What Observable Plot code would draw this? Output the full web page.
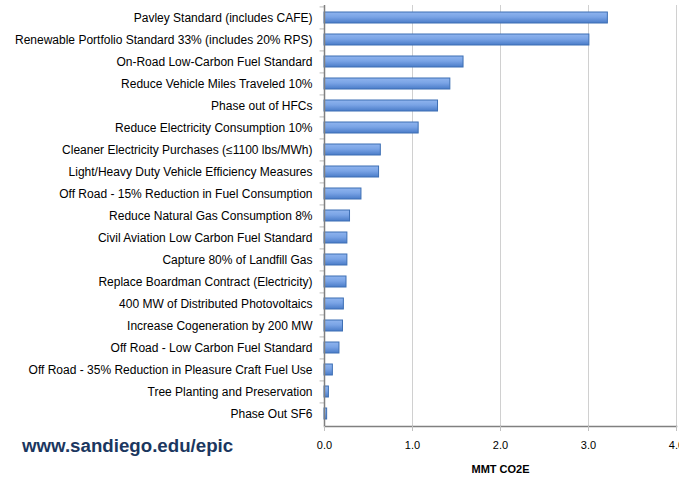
<!DOCTYPE html>
<html><head><meta charset="utf-8">
<script src="https://cdn.jsdelivr.net/npm/d3@7"></script>
<script src="https://cdn.jsdelivr.net/npm/@observablehq/plot@0.6"></script>
<style>
body{margin:0;background:#fff;}
#wrap{position:relative;width:679px;height:481px;overflow:hidden;}
#url{position:absolute;left:22px;top:435px;font:bold 18.7px "Liberation Sans",Arial,sans-serif;color:#1b3760;}
</style></head>
<body><div id="wrap"><div id="url">www.sandiego.edu/epic</div></div>
<script>
const categories = [
  "Pavley Standard (includes CAFE)",
  "Renewable Portfolio Standard 33% (includes 20% RPS)",
  "On-Road Low-Carbon Fuel Standard",
  "Reduce Vehicle Miles Traveled 10%",
  "Phase out of HFCs",
  "Reduce Electricity Consumption 10%",
  "Cleaner Electricity Purchases (≤1100 lbs/MWh)",
  "Light/Heavy Duty Vehicle Efficiency Measures",
  "Off Road - 15% Reduction in Fuel Consumption",
  "Reduce Natural Gas Consumption 8%",
  "Civil Aviation Low Carbon Fuel Standard",
  "Capture 80% of Landfill Gas",
  "Replace Boardman Contract (Electricity)",
  "400 MW of Distributed Photovoltaics",
  "Increase Cogeneration by 200 MW",
  "Off Road - Low Carbon Fuel Standard",
  "Off Road - 35% Reduction in Pleasure Craft Fuel Use",
  "Tree Planting and Preservation",
  "Phase Out SF6"
];
const values = [3.22, 3.01, 1.58, 1.43, 1.29, 1.07, 0.64, 0.62, 0.42, 0.29, 0.26, 0.26, 0.25, 0.22, 0.21, 0.17, 0.095, 0.05, 0.03];
const xTicks = [0, 1, 2, 3, 4];
const xLabel = "MMT CO2E";

const data = categories.map((c, i) => ({category: c, value: values[i]}));
const H = 481, mTop = 5, mBottom = 55;
const step = (H - mTop - mBottom) / categories.length;

const chart = Plot.plot({
  width: 679,
  height: H,
  marginTop: mTop,
  marginBottom: mBottom,
  marginLeft: 324,
  marginRight: 3,
  style: {fontFamily: "'Liberation Sans', Arial, sans-serif", fontSize: "12px", color: "#000", background: "#fff"},
  x: {domain: [0, 4], ticks: xTicks, tickFormat: d => d.toFixed(1), label: xLabel, labelAnchor: "center", labelArrow: "none"},
  y: {domain: categories, paddingInner: 0.5, paddingOuter: 0.25, label: null},
  marks: [
    Plot.gridX(xTicks.slice(1), {stroke: "#d0d0d0", strokeOpacity: 1, strokeWidth: 1}),
    Plot.barX(data, {x: "value", y: "category", fill: "url(#barGrad)", stroke: "#3d6fb4", strokeWidth: 1}),
    Plot.ruleY(categories, {y: d => d, x1: -0.05, x2: 0, dy: -step / 2, stroke: "#b8b8b8"}),
    Plot.ruleX([0], {stroke: "#808080", strokeWidth: 1.5}),
    Plot.frame({anchor: "bottom", stroke: "#808080", strokeWidth: 1.5}),
    Plot.axisX(xTicks, {tickSize: 5, tickPadding: 10, stroke: "#c0c0c0", fontSize: 11, label: xLabel, labelAnchor: "center", labelOffset: 46, labelArrow: "none", tickFormat: d => d.toFixed(1)}),
    Plot.axisY({tickSize: 0, tickPadding: 12, fontSize: 12, label: null})
  ]
});

const ns = "http://www.w3.org/2000/svg";
const defs = document.createElementNS(ns, "defs");
defs.innerHTML = `<linearGradient id="barGrad" x1="0" y1="0" x2="0" y2="1">
<stop offset="0" stop-color="#8fb4ee"/>
<stop offset="0.45" stop-color="#7aa4e6"/>
<stop offset="1" stop-color="#4a7cc8"/></linearGradient>`;
chart.insertBefore(defs, chart.firstChild);
chart.querySelectorAll("[aria-label='x-axis label'] text").forEach(t => { t.setAttribute("font-weight", "bold"); });
document.getElementById("wrap").insertBefore(chart, document.getElementById("url"));
</script>
</body></html>
